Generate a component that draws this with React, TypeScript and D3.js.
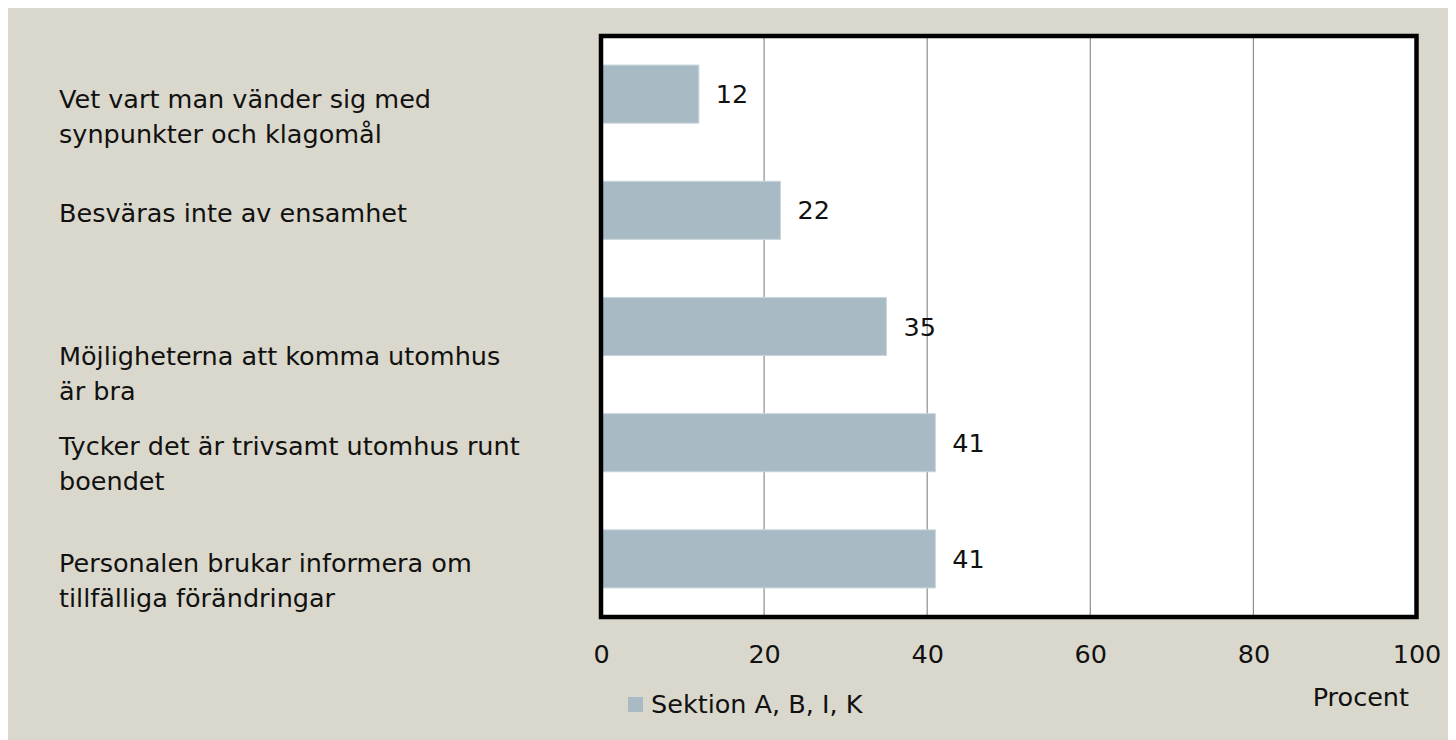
import React, { useEffect, useRef } from "react"
import * as d3 from "d3"

// categories top to bottom, as shown
const categories = [
  "Vet vart man vänder sig med synpunkter och klagomål",
  "Besväras inte av ensamhet",
  "Möjligheterna att komma utomhus är bra",
  "Tycker det är trivsamt utomhus runt boendet",
  "Personalen brukar informera om tillfälliga förändringar",
]
// label lines as they wrap in the picture
const labelLines = [
  ["Vet vart man vänder sig med", "synpunkter och klagomål"],
  ["Besväras inte av ensamhet"],
  ["Möjligheterna att komma utomhus", "är bra"],
  ["Tycker det är trivsamt utomhus runt", "boendet"],
  ["Personalen brukar informera om", "tillfälliga förändringar"],
]
const values = [12, 22, 35, 41, 41]
const xTicks = [0, 20, 40, 60, 80, 100]
const seriesName = "Sektion A, B, I, K"
const axisTitle = "Procent"

const FONT = "'DejaVu Sans', sans-serif"
const FS = 25.5
const BG = "#dad8cc"
const BAR = "#a8bbc5"

function App() {
  const svgRef = useRef<SVGSVGElement>(null)

  useEffect(() => {
    document.body.style.overflow = "hidden"
    const svg = d3.select(svgRef.current)
    svg.selectAll("*").remove()

    // work in page coordinates (svg sits at the 8px body margin)
    const g = svg.append("g").attr("transform", "translate(-8,-8)")

    g.append("rect").attr("x", 8).attr("y", 8).attr("width", 1448).attr("height", 732).attr("fill", BG)

    const PLOT = { left: 601, right: 1416.5, top: 36, bottom: 617 }

    const x = d3.scaleLinear().domain([0, 100]).range([PLOT.left, PLOT.right])
    const y = d3.scaleBand<string>()
      .domain(categories)
      .range([PLOT.top, PLOT.bottom])
      .paddingInner(0.5)
      .paddingOuter(0.25)

    g.append("rect")
      .attr("x", PLOT.left).attr("y", PLOT.top)
      .attr("width", PLOT.right - PLOT.left).attr("height", PLOT.bottom - PLOT.top)
      .attr("fill", "#fff")

    // gridlines
    g.selectAll(".grid")
      .data(xTicks.filter(t => t > 0 && t < 100))
      .enter().append("line")
      .attr("x1", d => x(d)).attr("x2", d => x(d))
      .attr("y1", PLOT.top).attr("y2", PLOT.bottom)
      .attr("stroke", "#8e8e8e").attr("stroke-width", 1.2)

    // bars
    g.selectAll(".bar")
      .data(values)
      .enter().append("rect")
      .attr("x", x(0))
      .attr("y", (d, i) => y(categories[i])!)
      .attr("width", d => x(d) - x(0))
      .attr("height", y.bandwidth())
      .attr("fill", BAR)
      .attr("stroke", "#c9d5db").attr("stroke-width", 1)

    // value labels
    g.selectAll(".val")
      .data(values)
      .enter().append("text")
      .attr("x", d => x(d) + 17)
      .attr("y", (d, i) => y(categories[i])! + y.bandwidth() / 2)
      .attr("dy", "0.36em")
      .attr("font-family", FONT).attr("font-size", FS).attr("fill", "#111")
      .text(d => d)

    // frame
    g.append("rect")
      .attr("x", PLOT.left).attr("y", PLOT.top)
      .attr("width", PLOT.right - PLOT.left).attr("height", PLOT.bottom - PLOT.top)
      .attr("fill", "none").attr("stroke", "#000").attr("stroke-width", 4.5)

    // x axis tick labels
    const axis = d3.axisBottom(x).tickValues(xTicks).tickSize(0).tickPadding(0)
    const ax = g.append("g").attr("transform", `translate(0,${PLOT.bottom})`).call(axis)
    ax.select(".domain").remove()
    ax.selectAll("text")
      .attr("y", 46).attr("dy", 0)
      .attr("font-family", FONT).attr("font-size", FS).attr("fill", "#111")

    // category labels (separate text block, left side)
    const labelShift = [14, 11.5, 38.5, 12.3, 12.8]
    const lab = g.selectAll(".lab")
      .data(labelLines)
      .enter().append("text")
      .attr("font-family", FONT).attr("font-size", FS).attr("fill", "#111")
    lab.each(function (lines, i) {
      const t = d3.select(this)
      const base = y(categories[i])! + y.bandwidth() / 2 + labelShift[i]
      lines.forEach((line, j) => {
        t.append("tspan").attr("x", 59).attr("y", base + j * 35).text(line)
      })
    })

    // legend
    g.append("rect").attr("x", 628).attr("y", 697).attr("width", 15).attr("height", 15).attr("fill", BAR)
    g.append("text").attr("x", 651).attr("y", 713)
      .attr("font-family", FONT).attr("font-size", FS).attr("fill", "#111")
      .text(seriesName)

    g.append("text").attr("x", 1409).attr("y", 705.5).attr("text-anchor", "end")
      .attr("font-family", FONT).attr("font-size", FS).attr("fill", "#111")
      .text(axisTitle)
  }, [])

  return <svg ref={svgRef} width={1448} height={732} style={{ display: "block" }}></svg>
}

export default App
